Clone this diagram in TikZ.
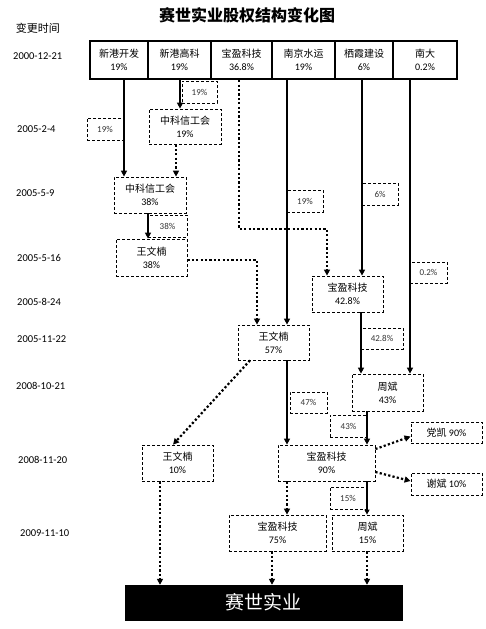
\documentclass[tikz,border=0pt]{standalone}
\usepackage{fontspec}
\setmainfont{Carlito}
\newfontfamily\cjk{Noto Sans CJK SC}
\usetikzlibrary{arrows.meta}
\begin{document}
\begin{tikzpicture}[x=1pt,y=-1pt]
\tikzset{
 sz/.style 2 args={minimum width=#1pt, minimum height=#2pt},
 cell/.style={draw, line width=2.4pt, inner sep=0pt, align=center, font=\fontsize{10}{13}\selectfont},
 dbox/.style={draw, dash pattern=on 3pt off 2pt, line width=0.8pt, inner sep=0pt, align=center, font=\fontsize{10}{13}\selectfont},
 lbl/.style={draw, dash pattern=on 3pt off 2pt, line width=0.8pt, inner sep=0pt, font=\fontsize{9}{11}\selectfont, text=black!80},
 sarr/.style={line width=2.2pt, -{Triangle[length=6pt,width=6pt]}},
 tarr/.style={line width=1.2pt, -{Triangle[length=5pt,width=5pt]}},
 darr/.style={line width=2.2pt, dash pattern=on 2.2pt off 2.2pt, -{Triangle[length=6pt,width=6pt]}},
 datelbl/.style={font=\fontsize{10.5}{12}\selectfont, anchor=west, inner sep=0pt},
 cjkt/.style={font=\cjk\fontsize{11}{13}\selectfont, inner sep=0pt}
}
\useasboundingbox (0,0) rectangle (485,629);
\fill[white] (0,0) rectangle (485,629);

% title and heading
\node[font=\cjk\bfseries\fontsize{16}{18}\selectfont, inner sep=0pt] (title) at (247,15) {赛世实业股权结构变化图};
\node[cjkt] (head) at (38,28) {变更时间};

% dates
\node[datelbl] (d1) at (13,56) {2000-12-21};
\node[datelbl] (d2) at (17,129) {2005-2-4};
\node[datelbl] (d3) at (16,193) {2005-5-9};
\node[datelbl] (d4) at (17,258) {2005-5-16};
\node[datelbl] (d5) at (17,302) {2005-8-24};
\node[datelbl] (d6) at (17,339) {2005-11-22};
\node[datelbl] (d7) at (16,386) {2008-10-21};
\node[datelbl] (d8) at (18,460) {2008-11-20};
\node[datelbl] (d9) at (20,533) {2009-11-10};

% top row
\node[cell, sz={58}{38}] (c1) at (119,60) {{\cjk 新港开发}\\19\%};
\node[cell, sz={63}{38}] (c2) at (179.5,60) {{\cjk 新港高科}\\19\%};
\node[cell, sz={61}{38}] (c3) at (241.5,60) {{\cjk 宝盈科技}\\36.8\%};
\node[cell, sz={63}{38}] (c4) at (303.5,60) {{\cjk 南京水运}\\19\%};
\node[cell, sz={58}{38}] (c5) at (364,60) {{\cjk 栖霞建设}\\6\%};
\node[cell, sz={64}{38}] (c6) at (425,60) {{\cjk 南大}\\0.2\%};

% content boxes
\node[dbox, sz={72}{35}] (z19) at (185,126.5) {{\cjk 中科信工会}\\19\%};
\node[dbox, sz={72}{36}] (z38) at (150,195) {{\cjk 中科信工会}\\38\%};
\node[dbox, sz={71}{37}] (w38) at (151.5,257.5) {{\cjk 王文楠}\\38\%};
\node[dbox, sz={71}{36}] (b428) at (347.5,294) {{\cjk 宝盈科技}\\42.8\%};
\node[dbox, sz={71}{35}] (w57) at (273.5,342.5) {{\cjk 王文楠}\\57\%};
\node[dbox, sz={71}{37}] (zb43) at (387.5,392.5) {{\cjk 周斌}\\43\%};
\node[dbox, sz={71}{36}] (w10) at (177.5,463) {{\cjk 王文楠}\\10\%};
\node[dbox, sz={97}{36}] (b90) at (326.5,463) {{\cjk 宝盈科技}\\90\%};
\node[dbox, sz={71}{21}] (dk) at (446.5,432.5) {{\cjk 党凯} 90\%};
\node[dbox, sz={71}{22}] (xb) at (446.5,484) {{\cjk 谢斌} 10\%};
\node[dbox, sz={97}{36}] (b75) at (277.5,533) {{\cjk 宝盈科技}\\75\%};
\node[dbox, sz={71}{36}] (zb15) at (367.5,533) {{\cjk 周斌}\\15\%};
\node[fill=black, draw=black, sz={277}{35}, inner sep=0pt, text=white, font=\cjk\fontsize{19}{21}\selectfont] (ss) at (263.5,602.5) {赛世实业};

% percentage labels
\node[lbl, sz={36}{22}] (l1) at (105,129) {19\%};
\node[lbl, sz={35}{22}] (l2) at (199.5,92) {19\%};
\node[lbl, sz={39}{22}] (l3) at (167.5,226) {38\%};
\node[lbl, sz={36}{22}] (l4) at (305,201) {19\%};
\node[lbl, sz={36}{22}] (l5) at (380,194) {6\%};
\node[lbl, sz={37}{21}] (l6) at (428.5,272.5) {0.2\%};
\node[lbl, sz={42}{21}] (l7) at (382,338.5) {42.8\%};
\node[lbl, sz={37}{21}] (l8) at (308.5,402.5) {47\%};
\node[lbl, sz={37}{22}] (l9) at (348.5,426) {43\%};
\node[lbl, sz={36}{22}] (l10) at (348,498) {15\%};

% x positions of connectors
\coordinate (x124) at (124,0);
\coordinate (x180) at (180,0);
\coordinate (x176) at (176,0);
\coordinate (x148) at (148,0);
\coordinate (x257) at (257,0);
\coordinate (k1) at (239,229);
\coordinate (x327) at (327,0);
\coordinate (x287) at (287,0);
\coordinate (x362) at (362,0);
\coordinate (x410) at (410,0);
\coordinate (x361) at (361,0);
\coordinate (x367) at (367,0);
\coordinate (x250) at (250,0);
\coordinate (x173) at (173,0);
\coordinate (x160) at (160,0);
\coordinate (x272) at (272,0);
\coordinate (y260) at (0,260);

% connectors
\draw[sarr] (c1.south -| x124) -- (z38.north -| x124);
\draw[sarr] (c2.south -| x180) -- (z19.north -| x180);
\draw[darr] (z19.south -| x176) -- (z38.north -| x176);
\draw[sarr] (z38.south -| x148) -- (w38.north -| x148);
\draw[darr] (w38.east |- y260) -| (w57.north -| x257);
\draw[darr] (c3.south -| k1) -- (k1) -| (b428.north -| x327);
\draw[sarr] (c4.south -| x287) -- (w57.north -| x287);
\draw[sarr] (c5.south -| x362) -- (b428.north -| x362);
\draw[sarr] (c6.south -| x410) -- (zb43.north -| x410);
\draw[sarr] (b428.south -| x361) -- (zb43.north -| x361);
\draw[sarr] (w57.south -| x287) -- (b90.north -| x287);
\draw[sarr] (zb43.south -| x367) -- (b90.north -| x367);
\draw[darr] (w57.south -| x250) -- (w10.north -| x173);
\draw[darr] ([yshift=14pt]b90.east) -- ([yshift=-4pt]dk.west);
\draw[darr] ([yshift=-9pt]b90.east) -- ([yshift=3pt]xb.west);
\draw[darr] (b90.south -| x287) -- (b75.north -| x287);
\draw[tarr] (b90.south -| x367) -- (zb15.north -| x367);
\draw[darr] (w10.south -| x160) -- (ss.north -| x160);
\draw[darr] (b75.south -| x272) -- (ss.north -| x272);
\draw[darr] (zb15.south -| x367) -- (ss.north -| x367);
\end{tikzpicture}
\end{document}
